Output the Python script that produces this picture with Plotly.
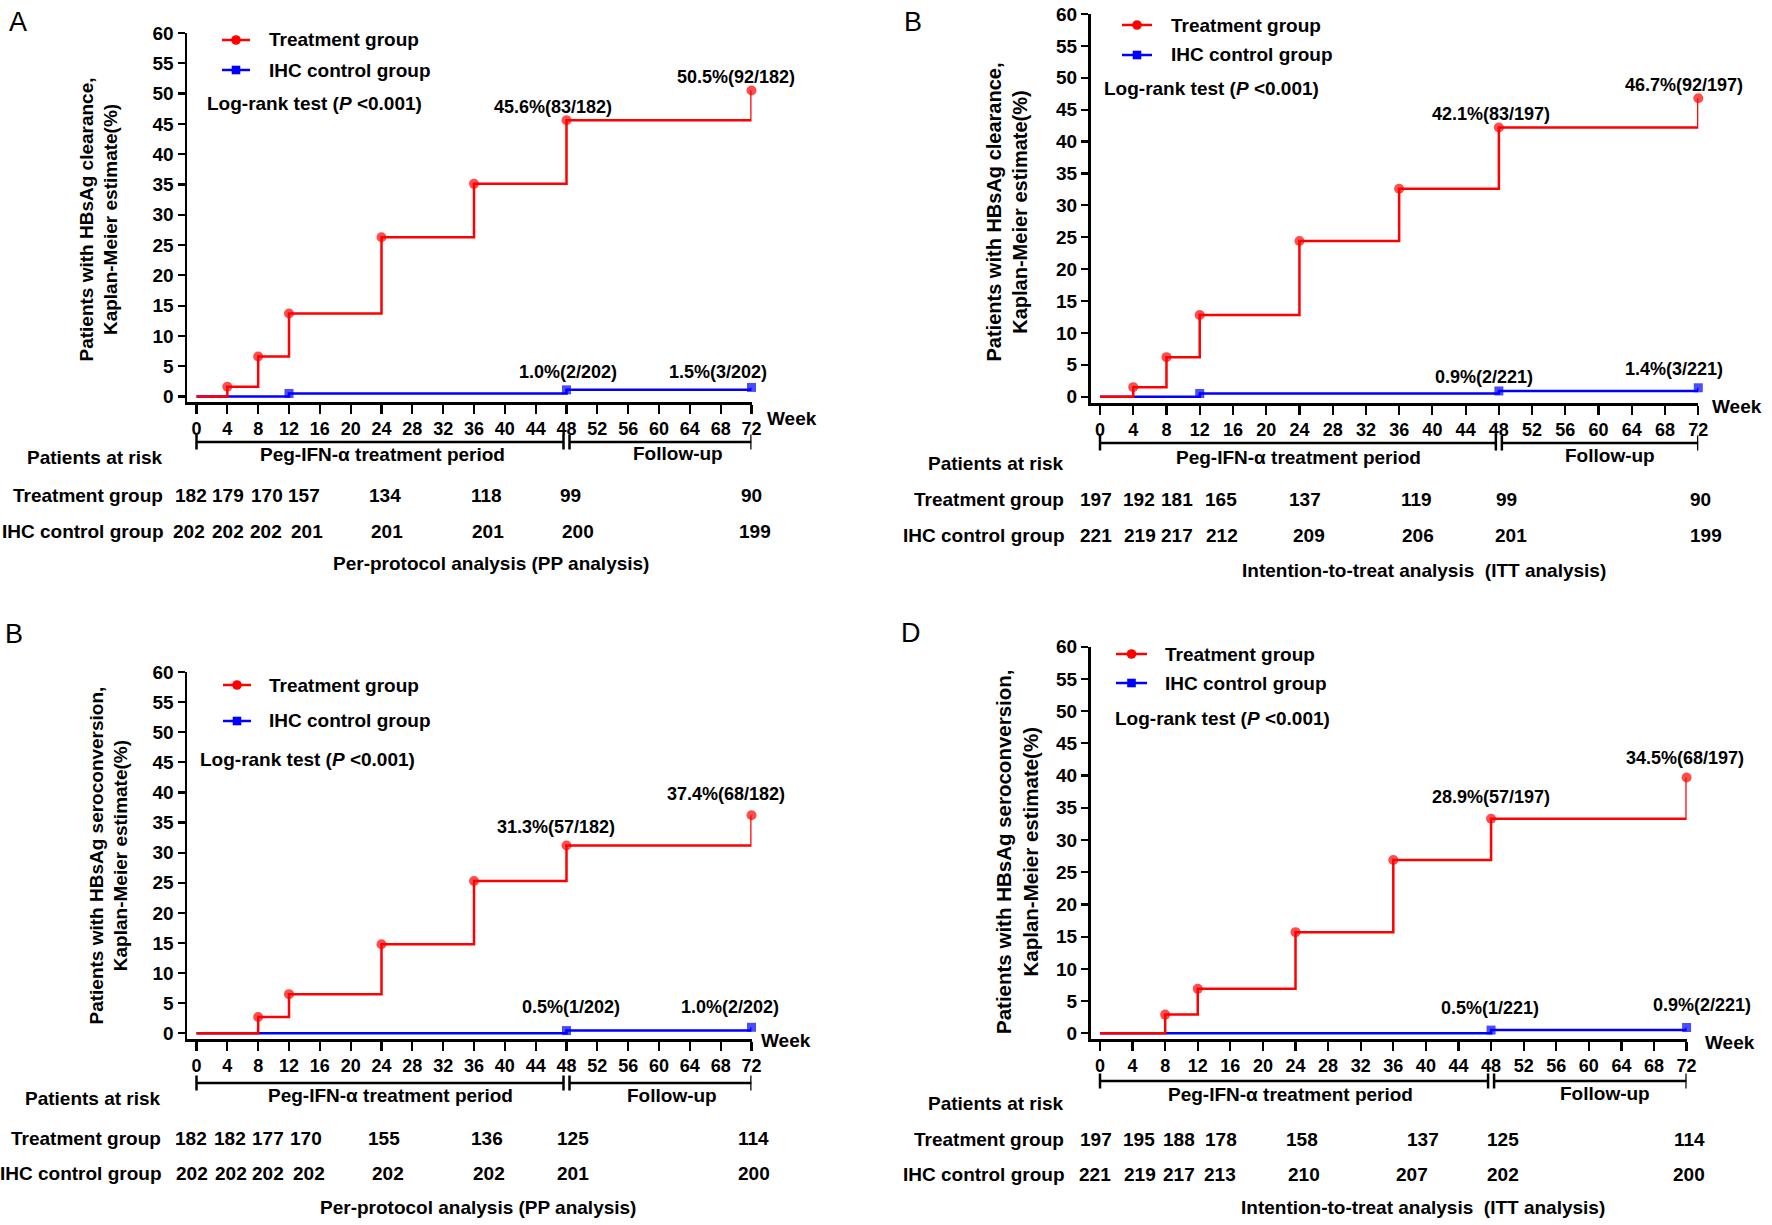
import plotly.graph_objects as go

W, H = 1772, 1225

# ---------------- data ----------------
x_ticks = list(range(0, 76, 4))
y_ticks = list(range(0, 65, 5))
risk_weeks = [0, 4, 8, 12, 24, 36, 48, 72]
label_weeks = [48, 72]

# Panel A: HBsAg clearance, per-protocol
a_trt_weeks = [0, 4, 8, 12, 24, 36, 48, 72]
a_trt_vals = [0, 1.6, 6.6, 13.7, 26.3, 35.1, 45.6, 50.5]
a_ctl_weeks = [0, 12, 48, 72]
a_ctl_vals = [0, 0.5, 1.1, 1.5]
a_risk_trt = [182, 179, 170, 157, 134, 118, 99, 90]
a_risk_ctl = [202, 202, 202, 201, 201, 201, 200, 199]
a_lab_trt = ["45.6%(83/182)", "50.5%(92/182)"]
a_lab_ctl = ["1.0%(2/202)", "1.5%(3/202)"]

# Panel B: HBsAg clearance, intention-to-treat
b_trt_weeks = [0, 4, 8, 12, 24, 36, 48, 72]
b_trt_vals = [0, 1.5, 6.2, 12.8, 24.4, 32.6, 42.2, 46.8]
b_ctl_weeks = [0, 12, 48, 72]
b_ctl_vals = [0, 0.5, 0.9, 1.4]
b_risk_trt = [197, 192, 181, 165, 137, 119, 99, 90]
b_risk_ctl = [221, 219, 217, 212, 209, 206, 201, 199]
b_lab_trt = ["42.1%(83/197)", "46.7%(92/197)"]
b_lab_ctl = ["0.9%(2/221)", "1.4%(3/221)"]

# Panel C: HBsAg seroconversion, per-protocol
c_trt_weeks = [0, 8, 12, 24, 36, 48, 72]
c_trt_vals = [0, 2.7, 6.5, 14.8, 25.3, 31.2, 36.2]
c_ctl_weeks = [0, 48, 72]
c_ctl_vals = [0, 0.45, 1.0]
c_risk_trt = [182, 182, 177, 170, 155, 136, 125, 114]
c_risk_ctl = [202, 202, 202, 202, 202, 202, 201, 200]
c_lab_trt = ["31.3%(57/182)", "37.4%(68/182)"]
c_lab_ctl = ["0.5%(1/202)", "1.0%(2/202)"]

# Panel D: HBsAg seroconversion, intention-to-treat
d_trt_weeks = [0, 8, 12, 24, 36, 48, 72]
d_trt_vals = [0, 2.9, 6.9, 15.7, 26.9, 33.3, 39.7]
d_ctl_weeks = [0, 48, 72]
d_ctl_vals = [0, 0.5, 0.9]
d_risk_trt = [197, 195, 188, 178, 158, 137, 125, 114]
d_risk_ctl = [221, 219, 217, 213, 210, 207, 202, 200]
d_lab_trt = ["28.9%(57/197)", "34.5%(68/197)"]
d_lab_ctl = ["0.5%(1/221)", "0.9%(2/221)"]

trt_name = "Treatment group"
ctl_name = "IHC control group"
logrank = "Log-rank test (<i>P</i> <0.001)"
risk_title = "Patients at risk"
period_text = "Peg-IFN-α treatment period"
follow_text = "Follow-up"
pp_text = "Per-protocol analysis (PP analysis)"
itt_text = "Intention-to-treat analysis  (ITT analysis)"
ytitle_clear = "Patients with HBsAg clearance,<br>Kaplan-Meier estimate(%)"
ytitle_sero = "Patients with HBsAg seroconversion,<br>Kaplan-Meier estimate(%)"

# ---------------- style / layout (pixels) ----------------
RED = "#ff0000"
BLUE = "#0000ff"
FONT = "Liberation Sans, Arial, sans-serif"
TICKFONT = "Liberation Sans Narrow, Liberation Sans, Arial, sans-serif"

panels = [
    dict(letter="A", letter_xy=(18, 22),
         trt=(a_trt_weeks, a_trt_vals), ctl=(a_ctl_weeks, a_ctl_vals),
         risk=(a_risk_trt, a_risk_ctl), labs=(a_lab_trt, a_lab_ctl),
         ytitle=ytitle_clear, analysis=pp_text,
         g=dict(yax=187, x0=196.5, x72=751.5, y60=33, y0=396.5, xax=402),
         lab_shift=[(-13.5, 13), (-15.5, 14), (1, 18), (-34, 15)],
         rs_trt=[-5.5, 0.7, 8.8, 15, 3.5, 12, 4.2, 0],
         rs_ctl=[-7.5, 0.2, 7.8, 17.7, 5.5, 14, 11.5, 3.5],
         rows=dict(trt=496, ctl=531, ana=563, br=442, par=457, per=454, fol=453),
         week=(765, 418), row_right=165, per_x=382, fol_x=678, ana_x=491,
         leg=dict(l0=222, l1=250, tx=267, y1=40, y2=70, lx=205, ly=103),
         yt=(98.5, 220, 19)),
    dict(letter="B", letter_xy=(913, 22),
         trt=(b_trt_weeks, b_trt_vals), ctl=(b_ctl_weeks, b_ctl_vals),
         risk=(b_risk_trt, b_risk_ctl), labs=(b_lab_trt, b_lab_ctl),
         ytitle=ytitle_clear, analysis=itt_text,
         g=dict(yax=1090.5, x0=1100, x72=1698.3, y60=14, y0=396.7, xax=403),
         lab_shift=[(-8, 13.5), (-14, 13), (-15, 14), (-24, 19)],
         rs_trt=[-4, 6, 10.5, 21, 5.6, 17, 8, 2],
         rs_ctl=[-4, 7, 10.5, 22, 10, 18.5, 12, 8],
         rows=dict(trt=499, ctl=535, ana=570, br=443, par=463, per=457, fol=455),
         week=(1710, 406), row_right=1066, per_x=1298, fol_x=1610, ana_x=1424,
         leg=dict(l0=1122, l1=1152, tx=1169, y1=25, y2=55, lx=1102, ly=89),
         yt=(1006.5, 212, 20)),
    dict(letter="B", letter_xy=(14, 634),
         trt=(c_trt_weeks, c_trt_vals), ctl=(c_ctl_weeks, c_ctl_vals),
         risk=(c_risk_trt, c_risk_ctl), labs=(c_lab_trt, c_lab_ctl),
         ytitle=ytitle_sero, analysis=pp_text,
         g=dict(yax=187, x0=196.5, x72=751.5, y60=672, y0=1033.3, xax=1039),
         lab_shift=[(-10.5, 18.6), (-25.5, 21), (4.5, 23.6), (-21.5, 20)],
         rs_trt=[-5.5, 2.3, 9.7, 17, 2.2, 13, 6, 2],
         rs_ctl=[-4.5, 3.7, 9.7, 19.7, 6.3, 14.5, 6, 2],
         rows=dict(trt=1138, ctl=1173, ana=1207, br=1083, par=1098, per=1095, fol=1095),
         week=(759, 1040), row_right=163, per_x=390, fol_x=672, ana_x=478,
         leg=dict(l0=223, l1=251, tx=267, y1=685, y2=721, lx=198, ly=759),
         yt=(108.5, 856, 19)),
    dict(letter="D", letter_xy=(911, 633),
         trt=(d_trt_weeks, d_trt_vals), ctl=(d_ctl_weeks, d_ctl_vals),
         risk=(d_risk_trt, d_risk_ctl), labs=(d_lab_trt, d_lab_ctl),
         ytitle=ytitle_sero, analysis=itt_text,
         g=dict(yax=1090.5, x0=1100, x72=1686.6, y60=646.7, y0=1033.3, xax=1039),
         lab_shift=[(0, 22), (-1.6, 19.5), (-1, 22), (15, 22.5)],
         rs_trt=[-4, 6, 13.6, 23, 6.5, 30, 12, 2.4],
         rs_ctl=[-5, 7, 13.6, 22, 8, 19, 12, 2.4],
         rows=dict(trt=1139, ctl=1174, ana=1207, br=1081, par=1103, per=1094, fol=1093),
         week=(1703, 1042), row_right=1066, per_x=1290, fol_x=1605, ana_x=1423,
         leg=dict(l0=1116, l1=1147, tx=1163, y1=654, y2=683, lx=1113, ly=718),
         yt=(1017, 851, 20.5)),
]

TXT = 19


def px(x):
    return x / W


def py(y):
    return 1 - y / H


fig = go.Figure()
shapes = []
annots = []
layout_axes = {}

for i, p in enumerate(panels):
    n = "" if i == 0 else str(i + 1)
    xa, ya = "x" + n, "y" + n
    g = p["g"]
    ppw = (g["x72"] - g["x0"]) / 72.0
    ppu = (g["y0"] - g["y60"]) / 60.0
    xmin = -(g["x0"] - g["yax"]) / ppw
    ymin = -(g["xax"] - g["y0"]) / ppu

    layout_axes["xaxis" + n] = dict(
        domain=[px(g["yax"]), px(g["x72"])], range=[xmin, 72], anchor=ya,
        tickvals=x_ticks, showline=True, linewidth=2.5, linecolor="black",
        ticks="outside", ticklen=9, tickwidth=2.2, tickcolor="black",
        showgrid=False, zeroline=False, automargin=False, fixedrange=True,
        tickfont=dict(family=TICKFONT, size=18, color="black", weight="bold"))
    layout_axes["yaxis" + n] = dict(
        domain=[py(g["xax"]), py(g["y60"])], range=[ymin, 60], anchor=xa,
        tickvals=y_ticks, showline=True, linewidth=2.5, linecolor="black",
        ticks="outside", ticklen=7, tickwidth=2.2, tickcolor="black",
        showgrid=False, zeroline=False, automargin=False, fixedrange=True,
        tickfont=dict(family=TICKFONT, size=19, color="black", weight="bold"))

    # step curves (control first so treatment sits on top)
    for (wk, vals), col, sym, msz in [(p["ctl"], BLUE, "square", 9), (p["trt"], RED, "circle", 10)]:
        sizes = [0 if v == 0 else msz for v in vals]
        fig.add_trace(go.Scatter(
            x=wk, y=vals, xaxis=xa, yaxis=ya, mode="lines+markers",
            line=dict(color=col, width=2.5, shape="hv"),
            marker=dict(symbol=sym, size=sizes, color=col, line=dict(width=0)),
            cliponaxis=False, showlegend=False, hoverinfo="skip"))

    # percentage labels
    trt_w, trt_v = p["trt"]
    ctl_w, ctl_v = p["ctl"]
    lab_trt, lab_ctl = p["labs"]
    items = []
    for k, w in enumerate(label_weeks):
        items.append((w, trt_v[trt_w.index(w)], lab_trt[k]))
    for k, w in enumerate(label_weeks):
        items.append((w, ctl_v[ctl_w.index(w)], lab_ctl[k]))
    for (w, v, t), (sx, sy) in zip(items, p["lab_shift"]):
        annots.append(dict(x=w, y=v, xref=xa, yref=ya, text="<b>%s</b>" % t,
                           showarrow=False, xanchor="center", yanchor="middle",
                           xshift=sx, yshift=sy,
                           font=dict(family=FONT, size=18, color="black")))

    # legend
    lg = p["leg"]
    for (yy, col, nm, kind) in [(lg["y1"], RED, trt_name, "circle"), (lg["y2"], BLUE, ctl_name, "rect")]:
        shapes.append(dict(type="line", xref="paper", yref="paper",
                           x0=px(lg["l0"]), x1=px(lg["l1"]), y0=py(yy), y1=py(yy),
                           line=dict(color=col, width=2.5)))
        cx = (lg["l0"] + lg["l1"]) / 2
        r = 4.8 if kind == "circle" else 4.3
        shapes.append(dict(type=kind, xref="paper", yref="paper",
                           x0=px(cx - r), x1=px(cx + r), y0=py(yy - r), y1=py(yy + r),
                           fillcolor=col, line=dict(width=0)))
        annots.append(dict(x=px(lg["tx"]), y=py(yy), xref="paper", yref="paper",
                           text="<b>%s</b>" % nm, showarrow=False, xanchor="left",
                           yanchor="middle", font=dict(family=FONT, size=TXT, color="black")))
    annots.append(dict(x=px(lg["lx"]), y=py(lg["ly"]), xref="paper", yref="paper",
                       text="<b>%s</b>" % logrank, showarrow=False, xanchor="left",
                       yanchor="middle", font=dict(family=FONT, size=TXT, color="black")))

    # Week label
    annots.append(dict(x=px(p["week"][0]), y=py(p["week"][1]), xref="paper", yref="paper",
                       text="<b>Week</b>", showarrow=False, xanchor="left", yanchor="middle",
                       font=dict(family=FONT, size=TXT, color="black")))

    # y-axis title
    yx, yy, ys = p["yt"]
    annots.append(dict(x=px(yx), y=py(yy), xref="paper", yref="paper",
                       text="<b>%s</b>" % p["ytitle"], showarrow=False, textangle=-90,
                       xanchor="center", yanchor="middle",
                       font=dict(family=FONT, size=ys, color="black")))

    # panel letter
    lx, ly = p["letter_xy"]
    annots.append(dict(x=px(lx), y=py(ly), xref="paper", yref="paper",
                       text=p["letter"], showarrow=False, xanchor="center", yanchor="middle",
                       font=dict(family=FONT, size=27, color="black")))

    # period bracket
    rw = p["rows"]
    gap = 3.0 / ppw
    cap = 7.5
    segs = [(0, 48 - gap), (48 + gap, 72)]
    for a, b in segs:
        shapes.append(dict(type="line", xref=xa, yref="paper", x0=a, x1=b,
                           y0=py(rw["br"]), y1=py(rw["br"]), line=dict(color="black", width=2.5)))
        for e in (a, b):
            shapes.append(dict(type="line", xref=xa, yref="paper", x0=e, x1=e,
                               y0=py(rw["br"] - cap), y1=py(rw["br"] + cap),
                               line=dict(color="black", width=2.5)))
    annots.append(dict(x=px(p["per_x"]), y=py(rw["per"]), xref="paper", yref="paper",
                       text="<b>%s</b>" % period_text, showarrow=False, xanchor="center",
                       yanchor="middle", font=dict(family=FONT, size=TXT, color="black")))
    annots.append(dict(x=px(p["fol_x"]), y=py(rw["fol"]), xref="paper", yref="paper",
                       text="<b>%s</b>" % follow_text, showarrow=False, xanchor="center",
                       yanchor="middle", font=dict(family=FONT, size=TXT, color="black")))

    # risk table
    annots.append(dict(x=px(p["row_right"]), y=py(rw["par"]), xref="paper", yref="paper",
                       text="<b>%s</b>" % risk_title, showarrow=False, xanchor="right",
                       yanchor="middle", font=dict(family=FONT, size=TXT, color="black")))
    for nm, vals, shifts, yy_ in [(trt_name, p["risk"][0], p["rs_trt"], rw["trt"]),
                                  (ctl_name, p["risk"][1], p["rs_ctl"], rw["ctl"])]:
        annots.append(dict(x=px(p["row_right"]), y=py(yy_), xref="paper", yref="paper",
                           text="<b>%s</b>" % nm, showarrow=False, xanchor="right",
                           yanchor="middle", font=dict(family=FONT, size=TXT, color="black")))
        for w, v, s in zip(risk_weeks, vals, shifts):
            annots.append(dict(x=w, y=py(yy_), xref=xa, yref="paper", text="<b>%d</b>" % v,
                               showarrow=False, xanchor="center", yanchor="middle", xshift=s,
                               font=dict(family=FONT, size=TXT, color="black")))
    annots.append(dict(x=px(p["ana_x"]), y=py(rw["ana"]), xref="paper", yref="paper",
                       text="<b>%s</b>" % p["analysis"], showarrow=False, xanchor="center",
                       yanchor="middle", font=dict(family=FONT, size=TXT, color="black")))

fig.update_layout(
    width=W, height=H, margin=dict(l=0, r=0, t=0, b=0, pad=0, autoexpand=False),
    paper_bgcolor="white", plot_bgcolor="white",
    showlegend=False, shapes=shapes, annotations=annots, hovermode=False,
    font=dict(family=FONT, color="black"),
    **layout_axes)

fig.write_html(
    "out.html",
    config={"displayModeBar": False, "staticPlot": True},
    post_script="document.body.style.margin='0px';document.body.style.padding='0px';"
                "document.body.style.overflow='hidden';")
